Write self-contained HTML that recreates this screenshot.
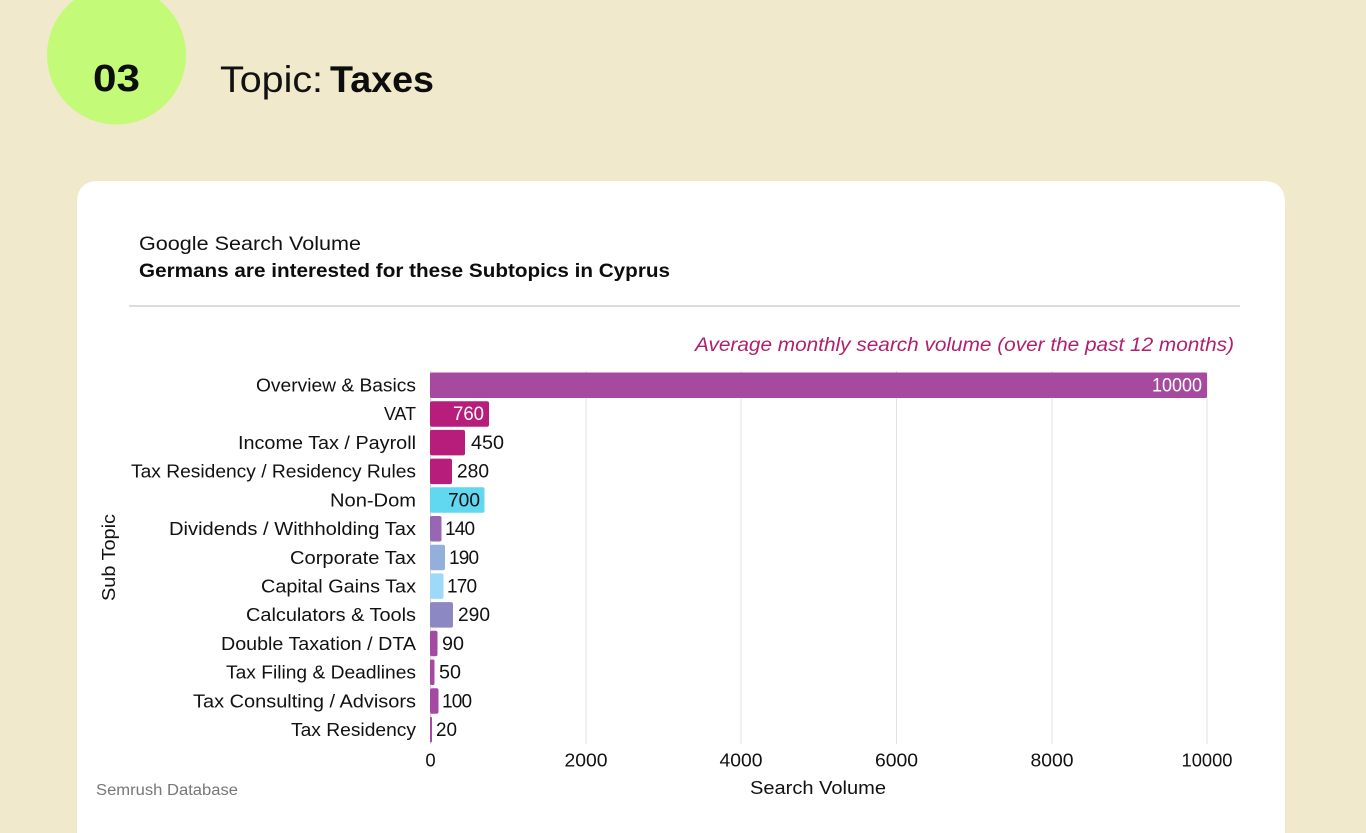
<!DOCTYPE html>
<html><head><meta charset="utf-8"><style>
html,body{margin:0;padding:0;background:#F0E9CB;width:1366px;height:833px;overflow:hidden;}
svg{display:block;}
text{font-family:"Liberation Sans",sans-serif;}
</style></head><body>
<svg width="1366" height="833" viewBox="0 0 1366 833" xmlns="http://www.w3.org/2000/svg">
<rect x="0" y="0" width="1366" height="833" fill="#F0E9CB"/>
<circle cx="116.5" cy="55" r="69.5" fill="#C3FA78"/>
<text x="116.5" y="91" font-size="38" font-weight="bold" text-anchor="middle" fill="#0d0d0d" textLength="47" lengthAdjust="spacingAndGlyphs">03</text>
<text x="220" y="92" font-size="37" fill="#111" textLength="103" lengthAdjust="spacingAndGlyphs">Topic:</text>
<text x="330" y="92" font-size="37" font-weight="bold" fill="#0d0d0d" textLength="104" lengthAdjust="spacingAndGlyphs">Taxes</text>

<path d="M77 833 L77 203 Q77 181 99 181 L1263 181 Q1285 181 1285 203 L1285 833 Z" fill="#ffffff"/>

<text x="139" y="250" font-size="19.5" fill="#111" textLength="222" lengthAdjust="spacingAndGlyphs">Google Search Volume</text>
<text x="139" y="277" font-size="19.5" font-weight="bold" fill="#0d0d0d" textLength="531" lengthAdjust="spacingAndGlyphs">Germans are interested for these Subtopics in Cyprus</text>
<rect x="129" y="305" width="1111" height="2" fill="#dcdcdc"/>
<text x="1234" y="351" font-size="19" font-style="italic" fill="#B0206F" text-anchor="end" textLength="539" lengthAdjust="spacingAndGlyphs">Average monthly search volume (over the past 12 months)</text>

<g stroke="#e2e2e2" stroke-width="1">
<line x1="586" y1="371" x2="586" y2="744"/>
<line x1="741" y1="371" x2="741" y2="744"/>
<line x1="896.5" y1="371" x2="896.5" y2="744"/>
<line x1="1052" y1="371" x2="1052" y2="744"/>
<line x1="1207" y1="371" x2="1207" y2="744"/>
</g>
<line x1="430.5" y1="371" x2="430.5" y2="744" stroke="#cfcfcf" stroke-width="1"/>

<g>
<rect x="430" y="372.5" width="777" height="25.5" rx="1.5" fill="#A54A9E"/>
<rect x="430" y="401.2" width="59" height="25.5" rx="2" fill="#B71E7C"/>
<rect x="430" y="429.9" width="35" height="25.5" rx="2" fill="#B71E7C"/>
<rect x="430" y="458.6" width="22" height="25.5" rx="2" fill="#B71E7C"/>
<rect x="430" y="487.3" width="54.5" height="25.5" rx="2" fill="#62D7F0"/>
<rect x="430" y="516.0" width="11.5" height="25.5" rx="2" fill="#9767B4"/>
<rect x="430" y="544.7" width="15" height="25.5" rx="2" fill="#95AFDB"/>
<rect x="430" y="573.4" width="13.5" height="25.5" rx="2" fill="#9FD9F9"/>
<rect x="430" y="602.1" width="23" height="25.5" rx="2" fill="#8C88C3"/>
<rect x="430" y="630.8" width="7.5" height="25.5" rx="2" fill="#A54AA3"/>
<rect x="430" y="659.5" width="4.5" height="25.5" rx="1.5" fill="#A54AA3"/>
<rect x="430" y="688.2" width="8.5" height="25.5" rx="2" fill="#A54AA3"/>
<rect x="430" y="716.9" width="2" height="25.5" rx="1" fill="#A54AA3"/>
</g>

<g font-size="18.5" fill="#111" text-anchor="end">
<text x="416" y="391.5" textLength="160" lengthAdjust="spacingAndGlyphs">Overview &amp; Basics</text>
<text x="416" y="420.2" textLength="32" lengthAdjust="spacingAndGlyphs">VAT</text>
<text x="416" y="449" textLength="178" lengthAdjust="spacingAndGlyphs">Income Tax / Payroll</text>
<text x="416" y="477.7" textLength="285" lengthAdjust="spacingAndGlyphs">Tax Residency / Residency Rules</text>
<text x="416" y="506.4" textLength="86" lengthAdjust="spacingAndGlyphs">Non-Dom</text>
<text x="416" y="535.1" textLength="247" lengthAdjust="spacingAndGlyphs">Dividends / Withholding Tax</text>
<text x="416" y="563.8" textLength="126" lengthAdjust="spacingAndGlyphs">Corporate Tax</text>
<text x="416" y="592.5" textLength="155" lengthAdjust="spacingAndGlyphs">Capital Gains Tax</text>
<text x="416" y="621.2" textLength="170" lengthAdjust="spacingAndGlyphs">Calculators &amp; Tools</text>
<text x="416" y="649.9" textLength="195" lengthAdjust="spacingAndGlyphs">Double Taxation / DTA</text>
<text x="416" y="678.6" textLength="190" lengthAdjust="spacingAndGlyphs">Tax Filing &amp; Deadlines</text>
<text x="416" y="707.3" textLength="223" lengthAdjust="spacingAndGlyphs">Tax Consulting / Advisors</text>
<text x="416" y="736" textLength="125" lengthAdjust="spacingAndGlyphs">Tax Residency</text>
</g>

<g font-size="19">
<text x="1202" y="391.5" fill="#ffffff" text-anchor="end" textLength="50" lengthAdjust="spacingAndGlyphs">10000</text>
<text x="484" y="420.2" fill="#ffffff" text-anchor="end" textLength="31" lengthAdjust="spacingAndGlyphs">760</text>
<text x="471" y="449" fill="#111" textLength="33" lengthAdjust="spacingAndGlyphs">450</text>
<text x="457" y="477.7" fill="#111" textLength="32" lengthAdjust="spacingAndGlyphs">280</text>
<text x="480" y="506.4" fill="#111" text-anchor="end" textLength="32" lengthAdjust="spacingAndGlyphs">700</text>
<text x="445" y="535.1" fill="#111" letter-spacing="-0.8">140</text>
<text x="449" y="563.8" fill="#111" letter-spacing="-0.8">190</text>
<text x="447" y="592.5" fill="#111" letter-spacing="-0.8">170</text>
<text x="458" y="621.2" fill="#111" textLength="32" lengthAdjust="spacingAndGlyphs">290</text>
<text x="442" y="649.9" fill="#111" textLength="22" lengthAdjust="spacingAndGlyphs">90</text>
<text x="439" y="678.6" fill="#111" textLength="22" lengthAdjust="spacingAndGlyphs">50</text>
<text x="442" y="707.3" fill="#111" letter-spacing="-0.8">100</text>
<text x="436" y="736" fill="#111" textLength="21" lengthAdjust="spacingAndGlyphs">20</text>
</g>

<g font-size="18.5" fill="#111" text-anchor="middle">
<text x="430.5" y="766.5">0</text>
<text x="586" y="766.5" textLength="43" lengthAdjust="spacingAndGlyphs">2000</text>
<text x="741" y="766.5" textLength="43" lengthAdjust="spacingAndGlyphs">4000</text>
<text x="896.5" y="766.5" textLength="43" lengthAdjust="spacingAndGlyphs">6000</text>
<text x="1052" y="766.5" textLength="43" lengthAdjust="spacingAndGlyphs">8000</text>
<text x="1207" y="766.5" textLength="51" lengthAdjust="spacingAndGlyphs">10000</text>
</g>
<text x="818" y="794" font-size="18.5" fill="#111" text-anchor="middle" textLength="136" lengthAdjust="spacingAndGlyphs">Search Volume</text>
<text transform="translate(115,557.5) rotate(-90)" font-size="18.5" fill="#111" text-anchor="middle" textLength="87" lengthAdjust="spacingAndGlyphs">Sub Topic</text>
<text x="96" y="795" font-size="15.5" fill="#777" textLength="142" lengthAdjust="spacingAndGlyphs">Semrush Database</text>
</svg>
</body></html>
